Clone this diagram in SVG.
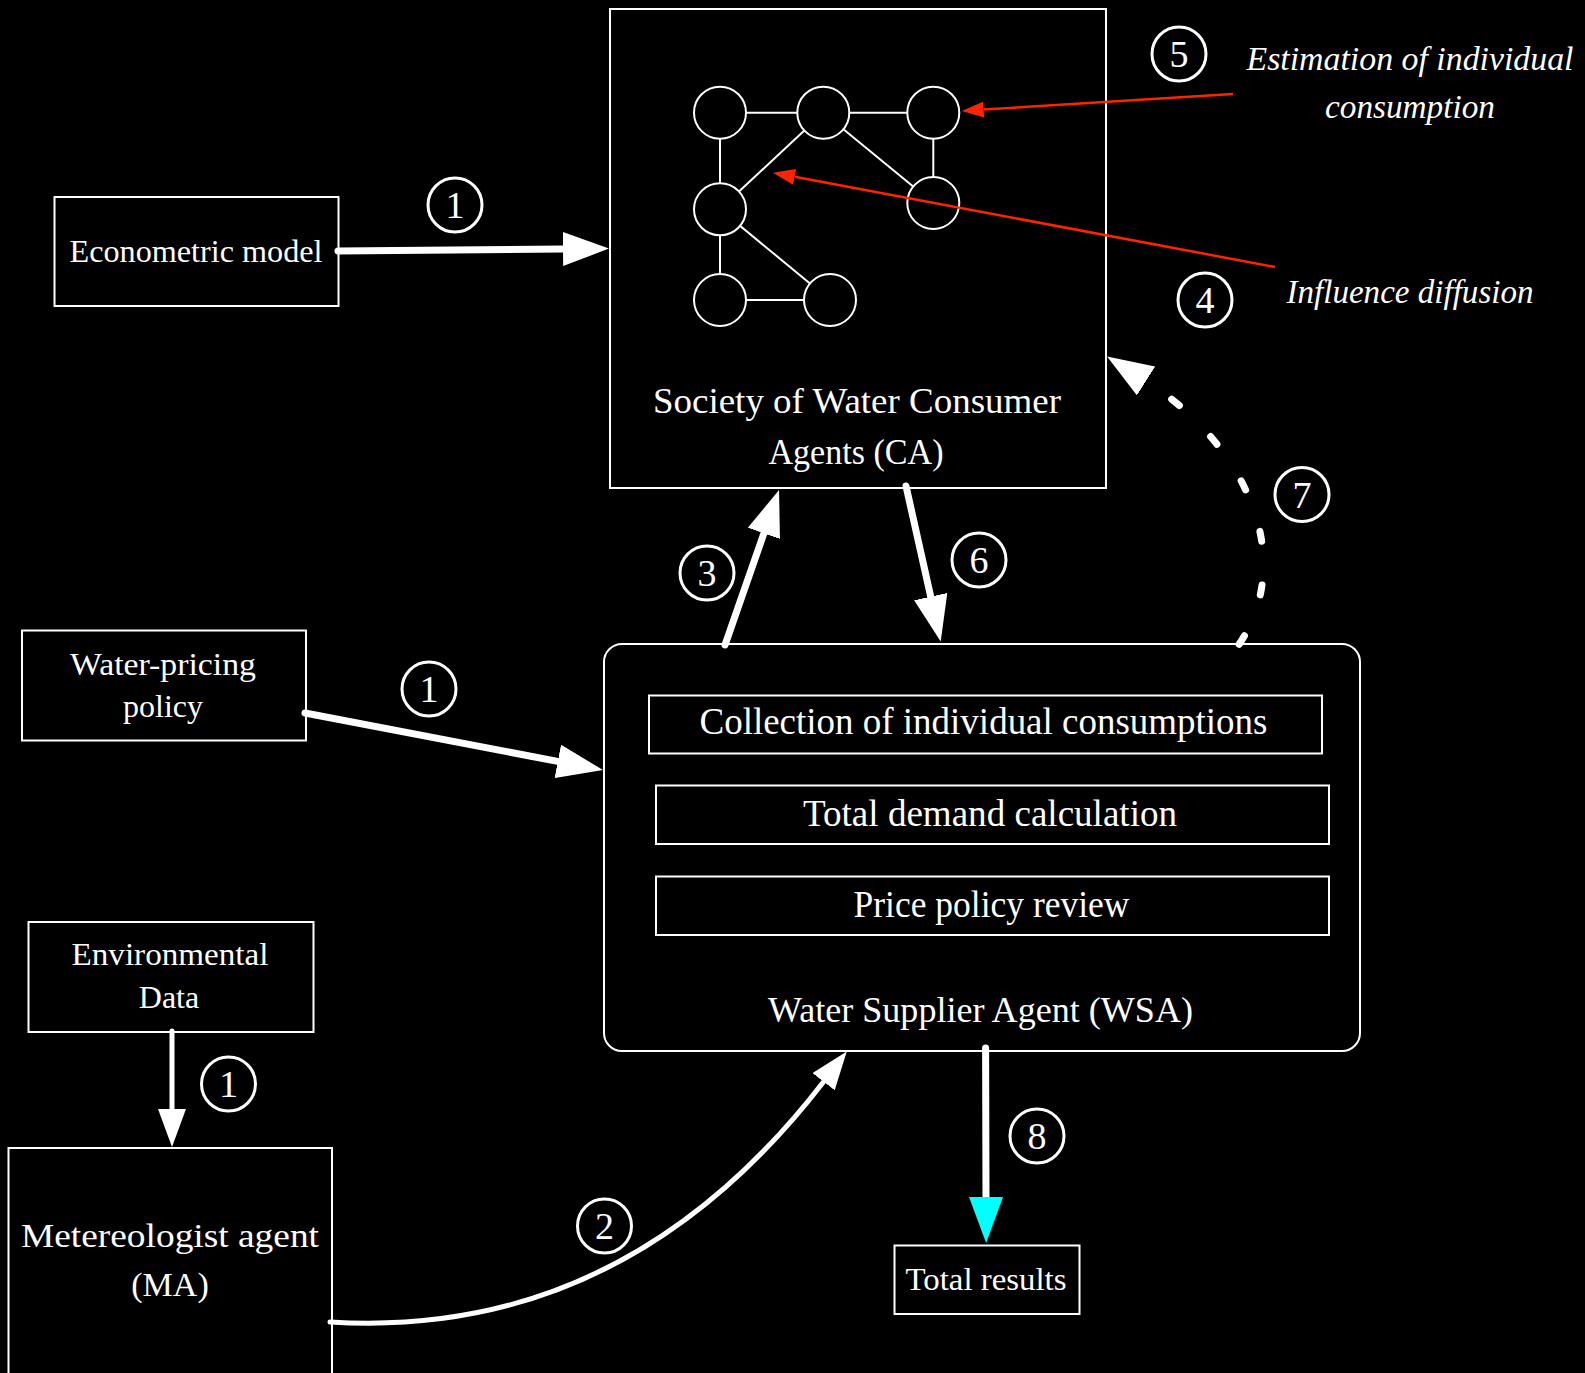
<svg xmlns="http://www.w3.org/2000/svg" width="1585" height="1373" viewBox="0 0 1585 1373">
<defs>
<style>
.box{fill:#000;stroke:#fff;stroke-width:2}
.t{font-family:"Liberation Serif","Times New Roman",serif;fill:#fff;text-anchor:middle}
.it{font-style:italic}
.node{fill:#000;stroke:#fff;stroke-width:2}
.edge{stroke:#fff;stroke-width:2}
.num circle{fill:none;stroke:#fff;stroke-width:3}
.num text{font-family:"Liberation Serif","Times New Roman",serif;fill:#fff;text-anchor:middle;font-size:38px}
.conn{fill:none;stroke:#fff;stroke-linecap:round}
</style>
<marker id="aw" viewBox="0 0 46 34" markerUnits="userSpaceOnUse" markerWidth="46" markerHeight="34" refX="0" refY="17" orient="auto"><path d="M0,0 L46,17 L0,34 z" fill="#fff"/></marker>
<marker id="ac" viewBox="0 0 46 34" markerUnits="userSpaceOnUse" markerWidth="46" markerHeight="34" refX="0" refY="17" orient="auto"><path d="M0,0 L46,17 L0,34 z" fill="#00ffff"/></marker>
<marker id="as" viewBox="0 0 38 28" markerUnits="userSpaceOnUse" markerWidth="38" markerHeight="28" refX="0" refY="14" orient="auto"><path d="M0,0 L38,14 L0,28 z" fill="#fff"/></marker>
<marker id="ar" viewBox="0 0 22 16" markerUnits="userSpaceOnUse" markerWidth="22" markerHeight="16" refX="0" refY="8" orient="auto"><path d="M0,0 L22,8 L0,16 z" fill="#ff2400"/></marker>
</defs>
<rect x="0" y="0" width="1585" height="1373" fill="#000"/>

<g id="ca">
<rect class="box" x="610" y="9" width="496" height="479"/>
<g id="network">
<line class="edge" x1="720" y1="112.7" x2="823.3" y2="112.7"/>
<line class="edge" x1="823.3" y1="112.7" x2="933.3" y2="112.7"/>
<line class="edge" x1="720" y1="112.7" x2="720" y2="209.3"/>
<line class="edge" x1="823.3" y1="112.7" x2="720" y2="209.3"/>
<line class="edge" x1="823.3" y1="112.7" x2="933.3" y2="203"/>
<line class="edge" x1="933.3" y1="112.7" x2="933.3" y2="203"/>
<line class="edge" x1="720" y1="209.3" x2="720" y2="300"/>
<line class="edge" x1="720" y1="209.3" x2="830" y2="300"/>
<line class="edge" x1="720" y1="300" x2="830" y2="300"/>
<circle class="node" cx="720" cy="112.7" r="26"/>
<circle class="node" cx="823.3" cy="112.7" r="26"/>
<circle class="node" cx="933.3" cy="112.7" r="26"/>
<circle class="node" cx="720" cy="209.3" r="26"/>
<circle class="node" cx="933.3" cy="203" r="26"/>
<circle class="node" cx="720" cy="300" r="26"/>
<circle class="node" cx="830" cy="300" r="26"/>
</g>
<text class="t" x="857" y="413" font-size="36" textLength="408" lengthAdjust="spacingAndGlyphs">Society of Water Consumer</text>
<text class="t" x="856" y="464" font-size="36" textLength="175" lengthAdjust="spacingAndGlyphs">Agents (CA)</text>
</g>

<g id="econometric">
<rect class="box" x="54.5" y="197" width="284" height="109"/>
<text class="t" x="196" y="261.5" font-size="31" textLength="253" lengthAdjust="spacingAndGlyphs">Econometric model</text>
</g>

<g id="pricing">
<rect class="box" x="22" y="630.5" width="284" height="110"/>
<text class="t" x="163" y="674.5" font-size="32" textLength="186" lengthAdjust="spacingAndGlyphs">Water-pricing</text>
<text class="t" x="163" y="717" font-size="32">policy</text>
</g>

<g id="envdata">
<rect class="box" x="28.5" y="922" width="285" height="110"/>
<text class="t" x="170" y="965" font-size="32" textLength="197" lengthAdjust="spacingAndGlyphs">Environmental</text>
<text class="t" x="169" y="1008" font-size="32">Data</text>
</g>

<g id="ma">
<rect class="box" x="8.5" y="1148" width="323.5" height="240"/>
<text class="t" x="170" y="1247" font-size="34" textLength="298" lengthAdjust="spacingAndGlyphs">Metereologist agent</text>
<text class="t" x="170" y="1296" font-size="34">(MA)</text>
</g>

<g id="wsa">
<rect class="box" x="604" y="644" width="756" height="407" rx="18" ry="18"/>
<g id="collection">
<rect class="box" x="649" y="695.5" width="673" height="58"/>
<text class="t" x="983.5" y="734" font-size="37" textLength="568" lengthAdjust="spacingAndGlyphs">Collection of individual consumptions</text>
</g>
<g id="demand">
<rect class="box" x="656" y="785.5" width="673" height="58.5"/>
<text class="t" x="990" y="826" font-size="37" textLength="374" lengthAdjust="spacingAndGlyphs">Total demand calculation</text>
</g>
<g id="review">
<rect class="box" x="656" y="876.5" width="673" height="58.5"/>
<text class="t" x="991.5" y="917" font-size="37" textLength="276" lengthAdjust="spacingAndGlyphs">Price policy review</text>
</g>
<text class="t" x="980.5" y="1022" font-size="36" textLength="425" lengthAdjust="spacingAndGlyphs">Water Supplier Agent (WSA)</text>
</g>

<g id="results">
<rect class="box" x="894.5" y="1245.5" width="185" height="68.5"/>
<text class="t" x="986" y="1290" font-size="32" textLength="161" lengthAdjust="spacingAndGlyphs">Total results</text>
</g>

<g id="annotations">
<text class="t it" x="1410" y="70" font-size="34" textLength="327" lengthAdjust="spacingAndGlyphs">Estimation of individual</text>
<text class="t it" x="1410" y="118" font-size="34" textLength="170" lengthAdjust="spacingAndGlyphs">consumption</text>
<text class="t it" x="1410" y="303" font-size="34" textLength="247" lengthAdjust="spacingAndGlyphs">Influence diffusion</text>
</g>

<g id="connectors">
<path class="conn" d="M338,251 L563,249" stroke-width="7" marker-end="url(#aw)"/>
<path class="conn" d="M305,713 L557.8,761.4" stroke-width="7" marker-end="url(#aw)"/>
<path class="conn" d="M172,1031 L172,1109" stroke-width="5" marker-end="url(#as)"/>
<path class="conn" d="M330,1322 C540,1335 700,1242 823.6,1081.7" stroke-width="5" marker-end="url(#as)"/>
<path class="conn" d="M725,645 L763.9,533.4" stroke-width="7" marker-end="url(#aw)"/>
<path class="conn" d="M906,486 L930.7,596.6" stroke-width="7" marker-end="url(#aw)"/>
<path class="conn" d="M1238,646 C1300,555 1241,441 1146,381" stroke-width="7" stroke-dasharray="10 44" stroke-dashoffset="-2" marker-end="url(#aw)"/>
<path class="conn" d="M985.6,1048 L986,1197" stroke="#00ffff" stroke-width="7" marker-end="url(#ac)"/>
<path d="M1233,94 L983.7,109.6" stroke="#ff2400" stroke-width="2.5" fill="none" marker-end="url(#ar)"/>
<path d="M1275,267 L794.6,176.8" stroke="#ff2400" stroke-width="2.5" fill="none" marker-end="url(#ar)"/>
</g>

<g id="labels">
<g class="num"><circle cx="455" cy="205" r="27"/><text x="455" y="218">1</text></g>
<g class="num"><circle cx="429" cy="689" r="27"/><text x="429" y="702">1</text></g>
<g class="num"><circle cx="228.5" cy="1084" r="27"/><text x="228.5" y="1097">1</text></g>
<g class="num"><circle cx="604.5" cy="1226" r="27"/><text x="604.5" y="1239">2</text></g>
<g class="num"><circle cx="707" cy="573" r="27"/><text x="707" y="586">3</text></g>
<g class="num"><circle cx="1205" cy="300" r="27"/><text x="1205" y="313">4</text></g>
<g class="num"><circle cx="1179" cy="54" r="27"/><text x="1179" y="67">5</text></g>
<g class="num"><circle cx="979" cy="560" r="27"/><text x="979" y="573">6</text></g>
<g class="num"><circle cx="1302" cy="494.5" r="27"/><text x="1302" y="507.5">7</text></g>
<g class="num"><circle cx="1037" cy="1136" r="27"/><text x="1037" y="1149">8</text></g>
</g>
</svg>
